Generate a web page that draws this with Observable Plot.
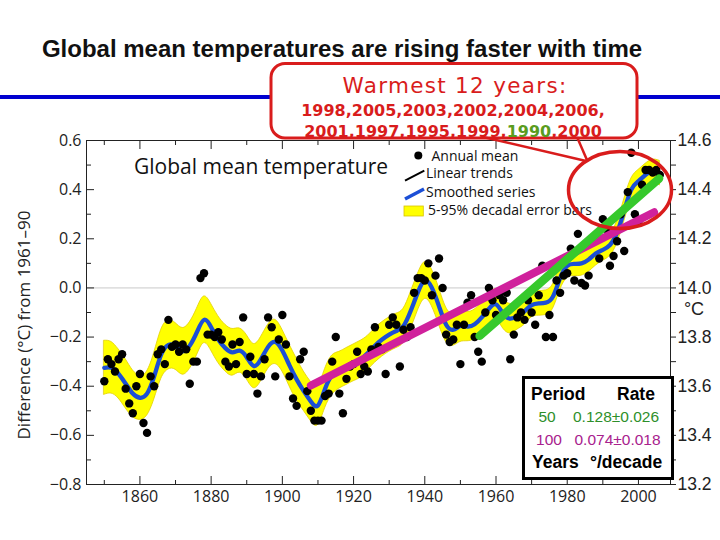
<!DOCTYPE html>
<html><head><meta charset="utf-8">
<script src="https://cdn.jsdelivr.net/npm/d3@7"></script>
<script src="https://cdn.jsdelivr.net/npm/@observablehq/plot@0.6"></script>
<style>
html,body{margin:0;padding:0;background:#fff;}
#wrap{position:relative;width:720px;height:540px;overflow:hidden;background:#fff;}
#wrap > svg{position:absolute;left:0;top:0;}
#deco{position:absolute;left:0;top:0;pointer-events:none;}
</style></head><body><div id="wrap"></div>
<script>
// ---- data ----
const annualYears = d3.range(1850, 2007);
const annual = [
 -0.38,-0.29,-0.31,-0.34,-0.29,-0.27,-0.41,-0.47,-0.51,-0.40,
 -0.35,-0.55,-0.59,-0.36,-0.40,-0.27,-0.25,-0.31,-0.13,-0.24,
 -0.23,-0.26,-0.23,-0.25,-0.39,-0.30,-0.30,0.04,0.06,-0.19,
 -0.19,-0.20,-0.18,-0.21,-0.30,-0.32,-0.23,-0.31,-0.22,-0.12,
 -0.35,-0.28,-0.35,-0.43,-0.36,-0.29,-0.12,-0.16,-0.36,-0.21,
 -0.11,-0.23,-0.36,-0.45,-0.48,-0.29,-0.26,-0.42,-0.50,-0.54,
 -0.54,-0.54,-0.44,-0.43,-0.30,-0.20,-0.43,-0.51,-0.37,-0.32,
 -0.31,-0.26,-0.35,-0.32,-0.34,-0.25,-0.16,-0.24,-0.25,-0.35,
 -0.15,-0.12,-0.15,-0.32,-0.17,-0.20,-0.16,-0.02,0.04,0.04,
 0.03,0.10,-0.03,0.05,0.12,0.00,-0.19,-0.22,-0.21,-0.15,
 -0.31,-0.15,-0.06,-0.03,-0.20,-0.26,-0.30,-0.10,0.00,-0.05,
 -0.11,-0.03,-0.05,-0.02,-0.29,-0.19,-0.12,-0.10,-0.13,-0.05,
 -0.10,-0.15,-0.03,0.09,-0.20,-0.11,-0.20,0.03,-0.02,0.05,
 0.06,0.16,0.03,0.22,0.02,0.01,0.05,0.20,0.21,0.12,
 0.28,0.24,0.09,0.13,0.19,0.30,0.15,0.39,0.55,0.30,
 0.27,0.42,0.48,0.48,0.47,0.48,0.46
];
const smoothYears = [
 1850,1852,1854,1856,1858,1860,1862,1864,1866,1868,
 1870,1872,1874,1876,1878,1880,1882,1884,1886,1888,
 1890,1892,1894,1896,1898,1900,1902,1904,1906,1908,
 1910,1912,1914,1916,1918,1920,1922,1924,1926,1928,
 1930,1932,1934,1936,1938,1940,1942,1944,1946,1948,
 1950,1952,1954,1956,1958,1960,1962,1964,1966,1968,
 1970,1972,1974,1976,1978,1980,1982,1984,1986,1988,
 1990,1992,1994,1996,1998,2000,2002,2004,2006
];
const smoothVals = [
 -0.325,-0.325,-0.35,-0.39,-0.43,-0.447,-0.43,-0.36,-0.27,-0.232,
 -0.238,-0.258,-0.235,-0.18,-0.13,-0.16,-0.21,-0.245,-0.262,-0.255,
 -0.282,-0.318,-0.29,-0.24,-0.22,-0.255,-0.315,-0.372,-0.42,-0.462,
 -0.478,-0.41,-0.355,-0.335,-0.32,-0.305,-0.29,-0.265,-0.235,-0.21,
 -0.19,-0.175,-0.155,-0.095,-0.02,0.03,0.0,-0.075,-0.15,-0.17,
 -0.155,-0.157,-0.148,-0.12,-0.085,-0.067,-0.105,-0.125,-0.115,-0.095,
 -0.07,-0.063,-0.06,-0.035,0.04,0.09,0.098,0.10,0.115,0.14,
 0.155,0.175,0.225,0.315,0.40,0.435,0.46,0.477,0.467
];
const bandHalf = [
 0.11,0.105,0.10,0.10,0.095,0.09,0.09,0.095,0.10,0.10,
 0.095,0.095,0.095,0.095,0.095,0.095,0.095,0.095,0.095,0.09,
 0.09,0.09,0.09,0.09,0.09,0.085,0.085,0.085,0.08,0.08,
 0.08,0.08,0.08,0.075,0.075,0.075,0.075,0.07,0.07,0.07,
 0.07,0.07,0.07,0.075,0.075,0.075,0.075,0.075,0.07,0.065,
 0.065,0.06,0.06,0.06,0.06,0.06,0.06,0.06,0.055,0.055,
 0.05,0.05,0.05,0.05,0.05,0.05,0.05,0.05,0.05,0.05,
 0.045,0.045,0.045,0.045,0.045,0.045,0.045,0.045,0.05
];
const trend50Years = [1955.4, 2005.8];
const trend50Vals = [-0.195, 0.445];
const trend100Years = [1908, 2004.4];
const trend100Vals = [-0.397, 0.308];
const trendPeriods = ["50", "100"];
const trendRates = ["0.128\u00b10.026", "0.074\u00b10.018"];
const xMajor = [1860,1880,1900,1920,1940,1960,1980,2000];
const xMinor = [1850,1870,1890,1910,1930,1950,1970,1990];
const yMajor = [-0.8,-0.6,-0.4,-0.2,0,0.2,0.4,0.6];
const yMinor = [-0.7,-0.5,-0.3,-0.1,0.1,0.3,0.5];
const rightTicks = [13.2,13.4,13.6,13.8,14.0,14.2,14.4,14.6];
const rightMinor = [13.3,13.5,13.7,13.9,14.1,14.3,14.5];
const rightBase = 14.0;
const warmLine1 = ["1998","2005","2003","2002","2004","2006"];
const warmLine2 = ["2001","1997","1995","1999","1990","2000"];

// ---- build tables ----
const pts = annualYears.map((y, i) => ({year: y, t: annual[i]}));
const smooth = smoothYears.map((y, i) => ({year: y, v: smoothVals[i], lo: smoothVals[i] - bandHalf[i], hi: smoothVals[i] + bandHalf[i]}));
const t50 = trend50Years.map((y, i) => ({year: y, v: trend50Vals[i]}));
const t100 = trend100Years.map((y, i) => ({year: y, v: trend100Vals[i]}));

const C = {green: "#36c92c", magenta: "#d0219c", blue: "#1c4fd6", yellow: "#ffff00", red: "#d91c1c"};
const fmt1 = d3.format(".1f");

const chart = Plot.plot({
  width: 720, height: 540,
  marginTop: 140, marginBottom: 56, marginLeft: 86, marginRight: 50,
  x: {domain: [1845, 2009], label: null},
  y: {domain: [-0.8, 0.6], label: null},
  style: {fontFamily: "Open Sans", fontSize: "16px", color: "#222", background: "transparent"},
  marks: [
    Plot.ruleY([0], {stroke: "#c9c9c9", strokeWidth: 1}),
    Plot.areaY(smooth, {x: "year", y1: "lo", y2: "hi", fill: C.yellow, stroke: "#e2cf00", strokeWidth: 0.8, curve: "natural"}),
    Plot.line(smooth, {x: "year", y: "v", stroke: C.blue, strokeWidth: 4.3, curve: "natural"}),
    Plot.dot(pts, {x: "year", y: "t", r: 4.2, fill: "#000"}),
    Plot.line(t100, {x: "year", y: "v", stroke: C.magenta, strokeWidth: 8}),
    Plot.line(t50, {x: "year", y: "v", stroke: C.green, strokeWidth: 8.5}),
    Plot.frame({stroke: "#222", strokeWidth: 1}),
    Plot.axisY({anchor: "left", ticks: yMajor, tickSize: -8, tickPadding: 13, tickFormat: fmt1, fontSize: 16, fill: "#222", label: null}),
    Plot.axisY({anchor: "left", ticks: yMinor, tickSize: -5, tickFormat: () => "", label: null}),
    Plot.axisY({anchor: "right", ticks: rightTicks.map(r => r - rightBase), tickSize: 5, tickPadding: 2, tickFormat: d => (d + rightBase).toFixed(1), fontFamily: "Liberation Sans, Arial, sans-serif", fontSize: 17.5, fill: "#222", label: null}),
    Plot.axisY({anchor: "right", ticks: rightMinor.map(r => r - rightBase), tickSize: 5, tickFormat: () => "", label: null}),
    Plot.axisX({anchor: "bottom", ticks: xMajor, tickSize: -8, tickPadding: 14, tickFormat: d3.format("d"), fontSize: 16, fill: "#222", label: null}),
    Plot.axisX({anchor: "bottom", ticks: xMinor, tickSize: -4, tickFormat: () => "", label: null}),
    Plot.axisX({anchor: "top", ticks: xMajor, tickSize: -8, tickFormat: () => "", label: null}),
    Plot.axisX({anchor: "top", ticks: xMinor, tickSize: -4, tickFormat: () => "", label: null})
  ]
});
document.getElementById("wrap").appendChild(chart);

// ---- slide decorations & legends (text kept as real text) ----
const ns = "http://www.w3.org/2000/svg";
const warm2 = warmLine2.map((y, i) => {
  const col = y === "1990" ? "#5a9c1e" : C.red;
  return `<tspan fill="${col}">${y}</tspan>` + (i < warmLine2.length - 1 ? "," : "");
}).join("");
const deco = `
<svg id="deco" xmlns="${ns}" width="720" height="540" viewBox="0 0 720 540">
  <text x="342" y="57" text-anchor="middle" font-family="Liberation Sans, Arial, sans-serif" font-weight="bold" font-size="24" fill="#111">Global mean temperatures are rising faster with time</text>
  <rect x="0" y="95" width="720" height="4" fill="#0000d0"/>
  <rect x="271" y="63.5" width="366" height="74.5" rx="14" ry="14" fill="#fff" stroke="${C.red}" stroke-width="3"/>
  <text x="455" y="93" text-anchor="middle" font-family="DejaVu Sans, sans-serif" font-size="21.5" letter-spacing="1.3" fill="${C.red}">Warmest 12 years:</text>
  <text x="453" y="116" text-anchor="middle" font-family="DejaVu Sans, sans-serif" font-weight="bold" font-size="16" fill="${C.red}">${warmLine1.join(",")},</text>
  <text x="453" y="136.5" text-anchor="middle" font-family="DejaVu Sans, sans-serif" font-weight="bold" font-size="16" fill="${C.red}">${warm2}</text>
  <line x1="483" y1="137" x2="586" y2="161" stroke="${C.red}" stroke-width="2.5"/>
  <line x1="577" y1="137" x2="587" y2="160" stroke="${C.red}" stroke-width="2.5"/>

  <text x="134" y="174" font-family="Open Sans, sans-serif" font-size="21" fill="#111">Global mean temperature</text>
  <circle cx="418.3" cy="155.5" r="4" fill="#000"/>
  <text x="431.5" y="160.5" font-family="Open Sans, sans-serif" font-size="14" fill="#111">Annual mean</text>
  <line x1="405" y1="180.7" x2="424.3" y2="170.7" stroke="#000" stroke-width="2"/>
  <text x="426" y="178.3" font-family="Open Sans, sans-serif" font-size="14" fill="#111">Linear trends</text>
  <line x1="405" y1="199" x2="424" y2="189" stroke="${C.blue}" stroke-width="3.5"/>
  <text x="426" y="196.7" font-family="Open Sans, sans-serif" font-size="14" fill="#111">Smoothed series</text>
  <rect x="404" y="206" width="19.3" height="10" fill="${C.yellow}" stroke="#d8c400" stroke-width="0.8"/>
  <text x="428" y="215" font-family="Open Sans, sans-serif" font-size="14" fill="#111">5-95% decadal error bars</text>

  <ellipse cx="620" cy="190" rx="51.5" ry="38.5" fill="none" stroke="${C.red}" stroke-width="3.5"/>

  <text transform="translate(30,325) rotate(-90)" text-anchor="middle" font-family="Open Sans, sans-serif" font-size="17" fill="#222">Difference (°C) from 1961–90</text>
  <text x="694" y="314.5" text-anchor="middle" font-family="Liberation Sans, Arial, sans-serif" font-size="18" fill="#222">°C</text>

  <rect x="523.5" y="377.5" width="149" height="101" fill="#fff" stroke="#000" stroke-width="3"/>
  <g font-family="Liberation Sans, Arial, sans-serif">
    <text x="531" y="399.5" font-weight="bold" font-size="17.5" fill="#000">Period</text>
    <text x="617" y="399.5" font-weight="bold" font-size="17.5" fill="#000">Rate</text>
    <text x="547" y="421.5" text-anchor="middle" font-size="15.5" fill="#2e8f2a">${trendPeriods[0]}</text>
    <text x="573" y="421.5" font-size="15.5" fill="#2e8f2a">${trendRates[0]}</text>
    <text x="549" y="444.5" text-anchor="middle" font-size="15.5" fill="#a8218d">${trendPeriods[1]}</text>
    <text x="574.5" y="444.5" font-size="15.5" fill="#a8218d">${trendRates[1]}</text>
    <text x="532" y="468" font-weight="bold" font-size="17.5" fill="#000">Years</text>
    <text x="590" y="468" font-weight="bold" font-size="17.5" fill="#000">°/decade</text>
  </g>
</svg>`;
document.getElementById("wrap").insertAdjacentHTML("beforeend", deco);
</script>
</body></html>
